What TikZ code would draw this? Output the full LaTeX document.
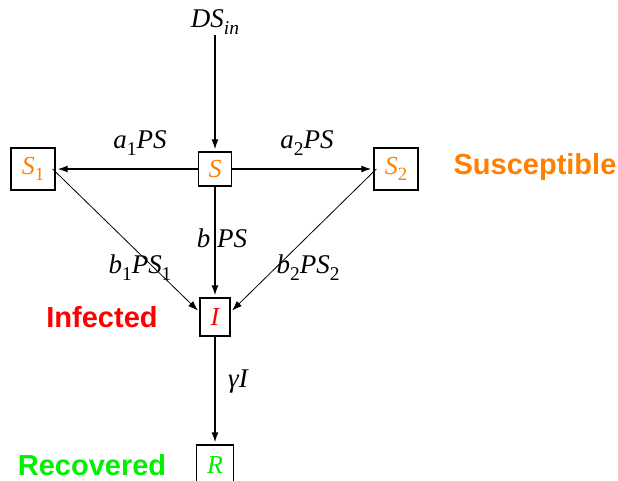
\documentclass[tikz,border=0pt]{standalone}
\usepackage{fontspec}
\setmainfont{Liberation Serif}
\setsansfont{Liberation Sans}
\usetikzlibrary{arrows.meta}
\definecolor{corange}{RGB}{255,128,0}
\definecolor{cred}{RGB}{255,0,0}
\definecolor{cgreen}{RGB}{0,240,0}
\newcommand\lo[1]{\raisebox{-0.25em}{\scalebox{0.72}{#1}}}
\tikzset{
  mathtxt/.style={font=\fontsize{27}{32}\selectfont\itshape, inner sep=0pt},
  comp/.style={draw, line width=1.3pt, inner sep=0pt, font=\fontsize{26}{30}\selectfont\itshape},
  grouplbl/.style={font=\fontsize{29}{34}\selectfont\sffamily\bfseries, inner sep=0pt},
  flow/.style={line width=1.4pt, -{Latex[length=10pt,width=7pt]}, shorten >=2pt},
  thinflow/.style={line width=0.8pt, -{Latex[length=10pt,width=7pt]}, shorten >=2pt}
}
\begin{document}
\begin{tikzpicture}[x=1pt,y=1pt]
\useasboundingbox (0,0) rectangle (618,-481);
\node[mathtxt] (DS) at (215,-22) {DS\lo{in}};
\node[comp, minimum width=33pt, minimum height=34pt, text=corange] (S) at (215,-169) {S};
\node[comp, minimum width=44pt, minimum height=42pt, text=corange] (S1) at (33,-169) {S\lo{\upshape 1}};
\node[comp, minimum width=44pt, minimum height=42pt, text=corange] (S2) at (396,-169) {S\lo{\upshape 2}};
\node[comp, minimum width=30pt, minimum height=38pt, text=cred] (I) at (215,-317) {I};
\node[comp, minimum width=37pt, minimum height=40pt, text=cgreen] (R) at (215,-465) {R};

\draw[flow] (DS.south) -- (S.north);
\draw[flow] (S.west) -- (S1.east);
\draw[flow] (S.east) -- (S2.west);
\draw[flow] (S.south) -- (I.north);
\draw[thinflow] ([xshift=-3pt]S1.east) -- ([yshift=5pt]I.west);
\draw[thinflow] ([xshift=3pt]S2.west) -- ([yshift=5pt]I.east);
\draw[flow] (I.south) -- (R.north);

\node[mathtxt] (la1) at (140,-143) {a\lo{\upshape 1}PS};
\node[mathtxt] (la2) at (307,-143) {a\lo{\upshape 2}PS};
\node[mathtxt] (lb) at (222,-238) {b PS};
\node[mathtxt] (lb1) at (140,-268) {b\lo{\upshape 1}PS\lo{\upshape 1}};
\node[mathtxt] (lb2) at (308,-268) {b\lo{\upshape 2}PS\lo{\upshape 2}};
\node[mathtxt] (lg) at (238,-382) {γI};

\node[grouplbl, text=corange] (sus) at (535,-167) {Susceptible};
\node[grouplbl, text=cred] (inf) at (102,-317) {Infected};
\node[grouplbl, text=cgreen] (rec) at (92,-465) {Recovered};
\end{tikzpicture}
\end{document}
